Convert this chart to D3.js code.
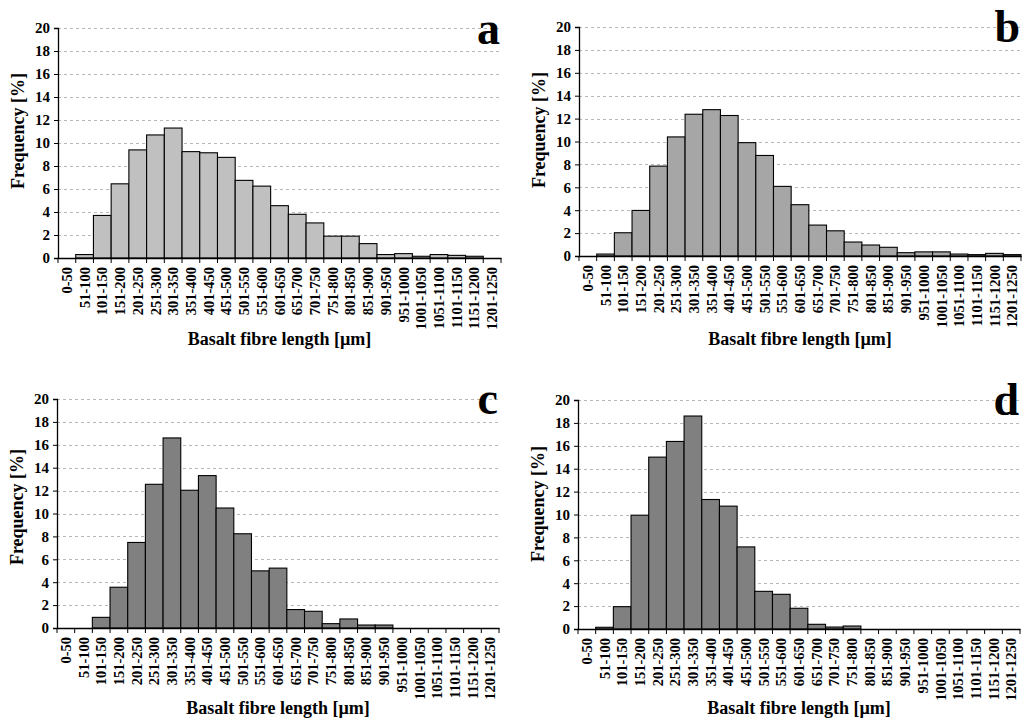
<!DOCTYPE html>
<html>
<head>
<meta charset="utf-8">
<script src="https://cdn.jsdelivr.net/npm/d3@7"></script>
<style>
  html, body { margin: 0; padding: 0; background: #fff; }
  svg { display: block; }
  text { font-family: "Liberation Serif", "Times New Roman", serif !important; font-weight: 700 !important; fill: #000; }
</style>
</head>
<body>
<svg id="chart" width="1025" height="727"></svg>
<script>
// ---- Data ----
const categories = ["0-50","51-100","101-150","151-200","201-250","251-300","301-350","351-400",
  "401-450","451-500","501-550","551-600","601-650","651-700","701-750","751-800","801-850",
  "851-900","901-950","951-1000","1001-1050","1051-1100","1101-1150","1151-1200","1201-1250"];

const seriesA = [0, 0.3, 3.7, 6.45, 9.4, 10.7, 11.3, 9.25, 9.15, 8.75, 6.75, 6.25, 4.55, 3.8, 3.05,
  1.9, 1.9, 1.25, 0.3, 0.38, 0.15, 0.3, 0.23, 0.15, 0];
const seriesB = [0, 0.17, 2.03, 3.98, 7.85, 10.4, 12.38, 12.78, 12.27, 9.9, 8.78, 6.08, 4.48, 2.7, 2.2,
  1.22, 0.96, 0.76, 0.29, 0.36, 0.36, 0.17, 0.12, 0.23, 0.12];
const seriesC = [0, 0, 0.93, 3.56, 7.47, 12.55, 16.6, 12.03, 13.31, 10.48, 8.23, 4.99, 5.23, 1.61, 1.46,
  0.38, 0.79, 0.26, 0.26, 0, 0, 0, 0, 0, 0];
const seriesD = [0, 0.15, 1.95, 9.94, 15.01, 16.38, 18.6, 11.31, 10.73, 7.17, 3.29, 3.03, 1.81, 0.41, 0.17,
  0.26, 0, 0, 0, 0, 0, 0, 0, 0, 0];

const yTicks = [0, 2, 4, 6, 8, 10, 12, 14, 16, 18, 20];
const panelLetters = ["a", "b", "c", "d"];
const xTitle = "Basalt fibre length [µm]";
const yTitle = "Frequency [%]";

// ---- Layout ----
const panels = [
  { letter: panelLetters[0], values: seriesA, fill: "#c0c0c0", left: 58,  right: 501,  top: 28,  bottom: 258, yTitleY: 131, xTitleY: 345, letterY: 44 },
  { letter: panelLetters[1], values: seriesB, fill: "#a6a6a6", left: 579, right: 1021, top: 27,  bottom: 256, yTitleY: 130, xTitleY: 345, letterY: 42 },
  { letter: panelLetters[2], values: seriesC, fill: "#808080", left: 57,  right: 499,  top: 399, bottom: 628, yTitleY: 507, xTitleY: 714, letterY: 414 },
  { letter: panelLetters[3], values: seriesD, fill: "#808080", left: 578, right: 1020, top: 400, bottom: 629, yTitleY: 504, xTitleY: 714, letterY: 415 }
];

const svg = d3.select("#chart");

panels.forEach(p => {
  const g = svg.append("g");
  const x = d3.scaleBand().domain(categories).range([p.left, p.right]).paddingInner(0).paddingOuter(0);
  const y = d3.scaleLinear().domain([0, 20]).range([p.bottom, p.top]);

  // gridlines
  g.append("g").selectAll("line").data(yTicks.filter(t => t > 0)).join("line")
    .attr("x1", p.left).attr("x2", p.right)
    .attr("y1", d => Math.round(y(d)) + 0.5).attr("y2", d => Math.round(y(d)) + 0.5)
    .attr("stroke", "#b8b8b8").attr("stroke-width", 1).attr("stroke-dasharray", "3,3");

  // bars
  g.append("g").selectAll("rect").data(categories.map((c, i) => ({ c, v: p.values[i] })).filter(d => d.v > 0)).join("rect")
    .attr("x", d => x(d.c)).attr("width", x.bandwidth())
    .attr("y", d => y(d.v)).attr("height", d => y(0) - y(d.v))
    .attr("fill", p.fill).attr("stroke", "#000").attr("stroke-width", 1.1);

  // y axis
  const yAxis = d3.axisLeft(y).tickValues(yTicks).tickSize(4).tickPadding(4).tickFormat(d3.format("d"));
  const ya = g.append("g").attr("transform", `translate(${p.left},0)`).call(yAxis);
  ya.select(".domain").attr("stroke", "#000").attr("stroke-width", 1.3);
  ya.selectAll(".tick line").attr("stroke", "#000");
  ya.selectAll(".tick text").style("font-size", "15px");

  // x axis (ticks at category boundaries)
  const xa = g.append("g").attr("transform", `translate(0,${p.bottom})`).call(d3.axisBottom(x).tickSize(0).tickPadding(0));
  xa.select(".domain").attr("stroke", "#000").attr("stroke-width", 1.3);
  xa.selectAll(".tick text")
    .style("font-size", "14.5px")
    .attr("text-anchor", "end").attr("dy", "0.35em")
    .attr("transform", "translate(0,9) rotate(-90)")
    .attr("x", 0).attr("y", 0);
  g.append("g").selectAll("line").data(categories.concat(["__end"])).join("line")
    .attr("x1", (d, i) => p.left + i * x.bandwidth()).attr("x2", (d, i) => p.left + i * x.bandwidth())
    .attr("y1", p.bottom).attr("y2", p.bottom + 5)
    .attr("stroke", "#000").attr("stroke-width", 1);

  // axis titles
  g.append("text").attr("x", (p.left + p.right) / 2).attr("y", p.xTitleY)
    .attr("text-anchor", "middle").style("font-size", "18px").text(xTitle);
  g.append("text").attr("transform", `translate(${p.left - 40},${p.yTitleY}) rotate(-90)`)
    .attr("text-anchor", "middle").attr("dy", "0.35em").style("font-size", "18px").text(yTitle);

  // panel letter
  g.append("text").attr("x", p.right - 1).attr("y", p.letterY)
    .attr("text-anchor", "end").style("font-size", "46px").text(p.letter);
});
</script>
</body>
</html>
